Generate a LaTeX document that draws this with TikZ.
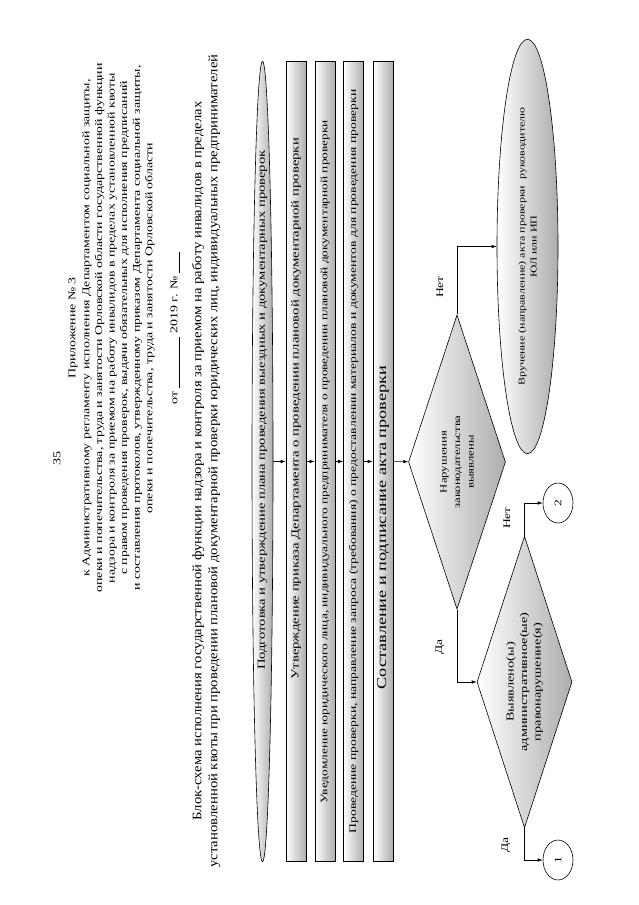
\documentclass[tikz,border=0pt]{standalone}
\usepackage{fontspec}
\setmainfont{Liberation Serif}
\usetikzlibrary{arrows.meta,shapes.geometric}

\begin{document}
\begin{tikzpicture}[
            x=1pt, y=-1pt,
            turned/.style={rotate=90, xscale=1.35, inner sep=0pt},
            greyfill/.style={draw, line width=0.6pt, left color=white, right color=black!32},
            stage/.style={turned, greyfill, rectangle, minimum width=593pt, minimum height=20pt},
            oval/.style={turned, greyfill, ellipse},
            choice/.style={turned, greyfill, diamond, aspect=2.25, align=center,
            font=\fontsize{9.4}{13.5}\selectfont},
            link/.style={turned, draw, line width=0.6pt, ellipse, minimum width=29.6pt,
            minimum height=30pt, font=\fontsize{10}{12}\selectfont},
            note/.style={turned, font=\fontsize{10}{12}\selectfont},
            ar/.style={-{Latex[length=5pt,width=3.5pt]}, line width=0.6pt}
        ]
            \fill[white] (0,0) rectangle (639,905);
            \useasboundingbox (0,0) rectangle (639,905);

% Page head
            \node[note, font=\fontsize{10.5}{12}\selectfont] (page) at (57,458) {35};
            \node[turned, align=center, font=\fontsize{10.3}{12.6}\selectfont] (annex) at (124,328)
                {Приложение № 3\\[1.4pt]
                 к Административному регламенту исполнения Департаментом социальной защиты,\\
                 опеки и попечительства, труда и занятости Орловской области государственной функции\\
                 надзора и контроля за приемом на работу инвалидов в пределах установленной квоты\\
                 с правом проведения проверок, выдачи обязательных для исполнения предписаний\\
                 и составления протоколов, утвержденному приказом Департамента социальной защиты,\\
                 опеки и попечительства, труда и занятости Орловской области\\[12.4pt]
                 от \underline{\hspace{38pt}} 2019 г. № \underline{\hspace{16pt}}};
            \node[rotate=90, xscale=1.13, align=center, font=\fontsize{13}{16}\selectfont] (title) at (206,461)
                {Блок-схема исполнения государственной функции надзора и контроля за приемом на работу инвалидов в пределах\\
                 установленной квоты при проведении плановой документарной проверки юридических лиц, индивидуальных предпринимателей};

% Main chain of stages
            \node[oval, minimum width=593pt, minimum height=21pt, font=\fontsize{10.8}{13}\selectfont] (prep) at (262.5,461.5)
                {\makebox[0pt]{\hspace*{76pt}Подготовка и утверждение плана проведения выездных и документарных проверок}};
            \node[stage, font=\fontsize{10.9}{13}\selectfont] (order)   at (296,461.5)
                {\hspace*{78pt}Утверждение приказа Департамента о проведении плановой документарной проверки};
            \node[stage, font=\fontsize{9.9}{11}\selectfont]  (notify)  at (325,461.5)
                {Уведомление юридического лица, индивидуального предпринимателя о проведении плановой документарной проверки};
            \node[stage, font=\fontsize{10.1}{11}\selectfont] (conduct) at (353.5,461.5)
                {Проведение проверки, направление запроса (требования) о предоставлении материалов и документов для проведения проверки};
            \node[stage, font=\fontsize{13.5}{16}\selectfont] (act)     at (383,461.5)
                {Составление и подписание акта проверки\hspace*{98pt}};

% Decisions
            \node[choice] (viol) at (457,462) [minimum width=218pt, minimum height=97pt]
                {Нарушения\\законодательства\\выявлены};
            \node[oval, minimum width=307pt, minimum height=61pt, align=center,
                font=\fontsize{8.9}{12}\selectfont] (deliver) at (527.5,246.5)
                {Вручение (направление) акта проверки \ руководителю\\ЮЛ или ИП};
            \node[choice, font=\fontsize{10.6}{13.5}\selectfont] (adm) at (524.5,682)
                [minimum width=216pt, minimum height=95pt]
                {Выявлено(ы)\\административное(ые)\\правонарушение(я)};
            \node[link] (c2) at (558,503) {2};
            \node[link] (c1) at (558,860) {1};

            \draw[ar] (prep) -- (order);
            \draw[ar] (order) -- (notify);
            \draw[ar] (notify) -- (conduct);
            \draw[ar] (conduct) -- (act);
            \draw[ar] (act) -- (viol);
            \draw[ar] (viol.east) |- (deliver.north);
            \draw[ar] (viol.west) |- (adm.north);
            \draw[ar] (adm.east) |- (c2.north);
            \draw[ar] (adm.west) |- (c1.north);

            \node[note] (no1)  at (440,287) {Нет};
            \node[note] (yes1) at (440,647) {Да};
            \node[note] (no2)  at (507,518) {Нет};
            \node[note] (yes2) at (506,845) {Да};
        \end{tikzpicture}
\end{document}
